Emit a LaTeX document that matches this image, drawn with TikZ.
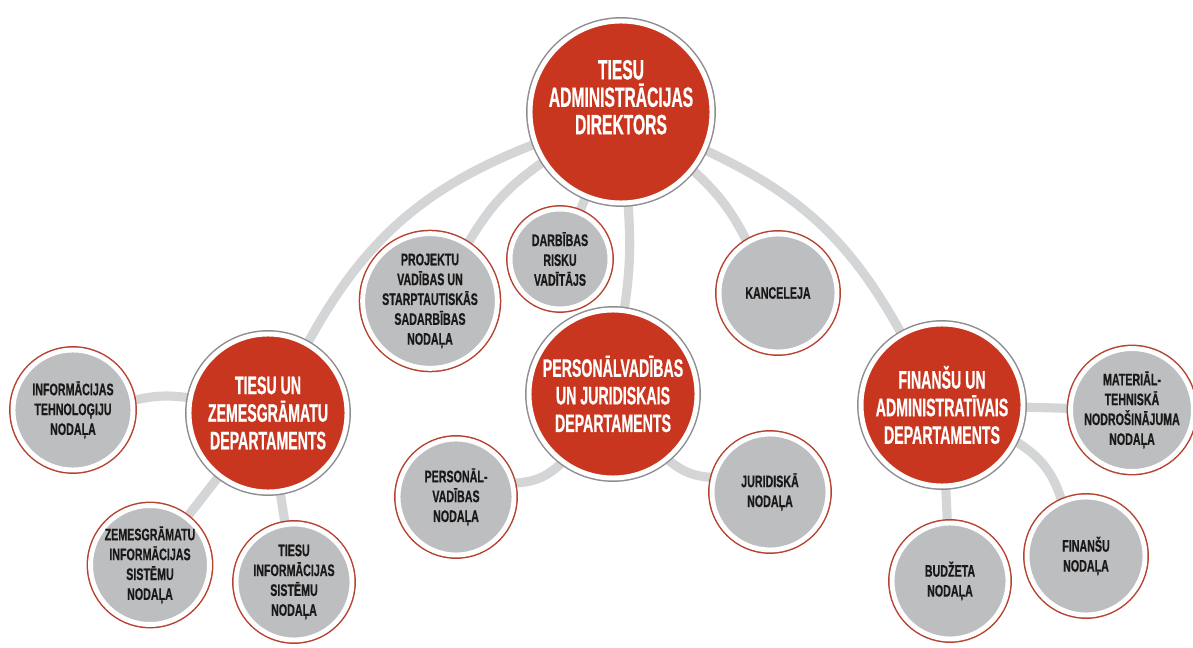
\documentclass[tikz,border=0pt]{standalone}
\usepackage{fontspec}
\setmainfont{Liberation Sans}[FakeStretch=0.56, FakeBold=0.6]
\newfontfamily\amtfont{Liberation Sans}[FakeStretch=0.64, FakeBold=0.6]
\usepackage{tikz}
\usetikzlibrary{backgrounds}

\definecolor{leitrot}{HTML}{C9361F}
\definecolor{amtgrau}{HTML}{BDBEC0}
\definecolor{liniegrau}{HTML}{D4D5D7}
\definecolor{randrot}{HTML}{B5432F}
\definecolor{randgrau}{HTML}{8E8E8E}

\begin{document}
\begin{tikzpicture}[x=0.02cm, y=-0.02cm,
  chef/.style={circle, inner sep=0pt, align=center, fill=leitrot, draw=white, line width=2.8pt,
    preaction={draw=randgrau, line width=4.5pt}, text=white,
    font=\bfseries\fontsize{14.4}{15.7}\selectfont},
  amt/.style={circle, inner sep=0pt, align=center, fill=amtgrau, draw=white, line width=2.8pt,
    preaction={draw=randrot, line width=4.5pt}, text=black!90,
    font=\amtfont\bfseries\fontsize{9.5}{11.3}\selectfont},
  linie/.style={liniegrau, line width=5.2pt}]
\useasboundingbox (0,0) rectangle (1193,648);

% leitung
\node[chef, minimum size=3.64cm, text depth=17pt, font=\bfseries\fontsize{15.9}{15.6}\selectfont] (dir) at (621,112) {TIESU\\ADMINISTRĀCIJAS\\DIREKTORS};

% departamenti
\node[chef, minimum size=3.16cm] (tz) at (268,413) {TIESU UN\\ZEMESGRĀMATU\\DEPARTAMENTS};
\node[chef, minimum size=3.36cm] (pj) at (613,394) {PERSONĀLVADĪBAS\\UN JURIDISKAIS\\DEPARTAMENTS};
\node[chef, minimum size=3.24cm] (fa) at (942,405) {FINANŠU UN\\ADMINISTRATĪVAIS\\DEPARTAMENTS};

% direkt unterstellt
\node[amt, minimum size=2.36cm] (pvsn) at (430,301) {PROJEKTU\\VADĪBAS UN\\STARPTAUTISKĀS\\SADARBĪBAS\\NODAĻA};
\node[amt, minimum size=2.0cm] (drv) at (560,259) {DARBĪBAS\\RISKU\\VADĪTĀJS};
\node[amt, minimum size=2.36cm] (kanc) at (778,293) {KANCELEJA};

% nodaļas links
\node[amt, minimum size=2.4cm] (it) at (73,410) {INFORMĀCIJAS\\TEHNOLOĢIJU\\NODAĻA};
\node[amt, minimum size=2.36cm] (zis) at (150,565) {ZEMESGRĀMATU\\INFORMĀCIJAS\\SISTĒMU\\NODAĻA};
\node[amt, minimum size=2.32cm] (tis) at (294,582) {TIESU\\INFORMĀCIJAS\\SISTĒMU\\NODAĻA};

% nodaļas mitte
\node[amt, minimum size=2.32cm] (pvn) at (456,497) {PERSONĀL-\\VADĪBAS\\NODAĻA};
\node[amt, minimum size=2.32cm] (jn) at (770,492) {JURIDISKĀ\\NODAĻA};

% nodaļas rechts
\node[amt, minimum size=2.36cm] (mtn) at (1132,410) {MATERIĀL-\\TEHNISKĀ\\NODROŠINĀJUMA\\NODAĻA};
\node[amt, minimum size=2.32cm] (bn) at (950,581) {BUDŽETA\\NODAĻA};
\node[amt, minimum size=2.36cm] (fn) at (1086,556) {FINANŠU\\NODAĻA};

% verbindungen
\begin{scope}[on background layer]
\draw[linie] (dir) to[bend right=20] (tz);
\draw[linie] (dir) to[bend right=12] (pvsn);
\draw[linie] (dir) -- (drv);
\draw[linie] (dir) to[bend left=6] (pj);
\draw[linie] (dir) to[bend left=10] (kanc);
\draw[linie] (dir) to[bend left=18] (fa);

\draw[linie] (tz) to[bend right=10] (it);
\draw[linie] (tz) -- (zis);
\draw[linie] (tz) -- (tis);

\draw[linie] (pj) to[bend left=20] (pvn);
\draw[linie] (pj) to[bend right=18] (jn);

\draw[linie] (fa) -- (mtn);
\draw[linie] (fa) -- (bn);
\draw[linie] (fa) to[bend left=20] (fn);
\end{scope}

\end{tikzpicture}
\end{document}
